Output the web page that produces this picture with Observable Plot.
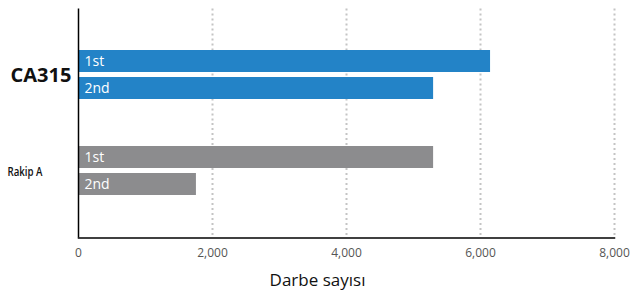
<!DOCTYPE html>
<html><head><meta charset="utf-8">
<script src="https://cdn.jsdelivr.net/npm/d3@7"></script>
<script src="https://cdn.jsdelivr.net/npm/@observablehq/plot@0.6"></script>
<style>
body{margin:0;background:#fff}
</style>
</head><body><div id="chart"></div>
<script>
const groups = ["CA315", "CA315", "Rakip A", "Rakip A"];
const series = ["1st", "2nd", "1st", "2nd"];
const values = [6150, 5300, 5300, 1760];
const xTicks = [0, 2000, 4000, 6000, 8000];
const groupNames = ["CA315", "Rakip A"];
const seriesNames = ["1st", "2nd"];
const axisLabel = "Darbe sayısı";
const groupColors = ["#2383c7", "#8c8c8e"];

const data = values.map((v, i) => ({group: groups[i], series: series[i], value: v}));
const font = "'Open Sans', sans-serif";
const ext = 18.5; // extension of frame lines beyond facet bands
const gridStyle = {stroke: "#c4c4c4", strokeOpacity: 1, strokeWidth: 2, strokeDasharray: "2,3"};
const topFacet = () => groupNames[0];
const bottomFacet = () => groupNames[1];

const chart = Plot.plot({
  width: 631, height: 293,
  marginLeft: 78, marginRight: 17, marginTop: 8, marginBottom: 56,
  style: {fontFamily: font, background: "#fff", overflow: "visible"},
  x: {domain: [0, 8000], axis: null},
  fy: {domain: groupNames, paddingInner: 0, paddingOuter: 0.1927, axis: null},
  y: {domain: seriesNames, paddingInner: 0.185, paddingOuter: 0.87, axis: null},
  color: {domain: groupNames, range: groupColors},
  marks: [
    Plot.gridX(xTicks.slice(1), {fy: topFacet, insetTop: -ext, ...gridStyle}),
    Plot.gridX(xTicks.slice(1), {fy: bottomFacet, insetBottom: -ext, ...gridStyle}),
    Plot.barX(data, {x: "value", y: "series", fy: "group", fill: "group"}),
    Plot.text(data, {x: 0, y: "series", fy: "group", text: "series", textAnchor: "start", dx: 6, fill: "white", fontSize: 14}),
    Plot.ruleX([0], {fy: topFacet, insetTop: -ext, stroke: "#000", strokeWidth: 1.5}),
    Plot.ruleX([0], {fy: bottomFacet, insetBottom: -ext, stroke: "#000", strokeWidth: 1.5}),
    Plot.frame({anchor: "bottom", fy: bottomFacet, insetBottom: -ext, stroke: "#000", strokeWidth: 1.5}),
    Plot.axisX(xTicks, {tickSize: 0, tickPadding: 29, tickFormat: d3.format(","), fontSize: 12, color: "#555", label: null}),
    Plot.text([axisLabel], {fy: bottomFacet, frameAnchor: "bottom", lineAnchor: "middle", dy: 61.5, dx: -29, fontSize: 17, fill: "#111"}),
    Plot.text([groupNames[0]], {fy: d => d, frameAnchor: "left", textAnchor: "start", dx: -68, fontWeight: "bold", fontSize: 20, fill: "#111"}),
    Plot.text([groupNames[1]], {fy: d => d, frameAnchor: "left", textAnchor: "start", dx: -71, fontSize: 13, fill: "#111", fontWeight: 600})
  ]
});
d3.select(chart).selectAll("text")
  .filter(function () { return this.textContent === groupNames[1]; })
  .attr("textLength", 35)
  .attr("lengthAdjust", "spacingAndGlyphs");
document.getElementById("chart").append(chart);
</script>
</body></html>
